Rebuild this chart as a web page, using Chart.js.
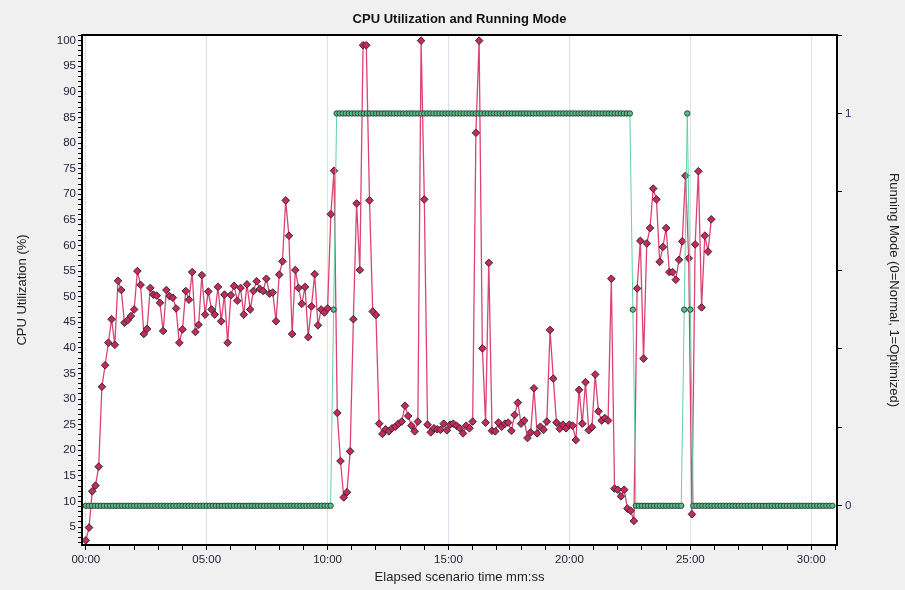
<!DOCTYPE html>
<html>
<head>
<meta charset="utf-8">
<script src="https://cdn.jsdelivr.net/npm/chart.js@4.4.1/dist/chart.umd.min.js"></script>
<style>
  html, body { margin: 0; padding: 0; background: #f0f0f0; }
  canvas { display: block; }
</style>
</head>
<body>
<canvas id="cpuChart" width="905" height="590"></canvas>
<script>
// --- Data ---
const cpuStepSec = 8; // one CPU sample every 8 s
const cpuValues = [
  2.4, 4.9, 12.0, 13.1, 16.8, 32.4, 36.6, 41.0, 45.6, 40.6,
  53.1, 51.3, 44.9, 45.4, 46.2, 47.5, 55.0, 52.3, 42.7, 43.7,
  51.7, 50.4, 50.2, 48.8, 43.3, 51.3, 50.1, 49.8, 47.7, 41.0,
  43.6, 51.1, 49.4, 54.8, 43.1, 44.5, 54.2, 46.5, 51.0, 47.5,
  46.5, 51.9, 45.2, 50.4, 41.0, 50.3, 52.1, 49.2, 51.7, 46.5,
  52.4, 47.5, 51.1, 53.0, 51.5, 51.1, 53.5, 50.6, 50.8, 45.2,
  54.3, 56.9, 68.8, 61.9, 42.7, 55.2, 51.7, 48.6, 51.9, 42.1,
  48.1, 54.4, 44.4, 47.5, 46.9, 47.7, 66.1, 74.6, 27.3, 17.9,
  10.8, 11.8, 19.8, 45.6, 68.2, 55.2, 99.1, 99.1, 68.8, 47.1,
  46.4, 25.2, 23.2, 24.1, 23.7, 24.3, 24.6, 25.2, 25.6, 28.7,
  26.7, 24.8, 23.7, 25.6, 100, 69.0, 25.0, 23.5, 24.3, 24.1,
  24.0, 25.2, 23.9, 25.0, 25.2, 24.8, 24.3, 23.3, 24.8, 24.3,
  25.6, 82.0, 100, 39.9, 25.4, 56.6, 23.8, 23.7, 25.4, 24.6,
  25.2, 25.4, 23.8, 26.9, 29.3, 25.2, 25.8, 22.4, 23.5, 32.1,
  23.3, 24.6, 24.0, 25.6, 43.5, 34.0, 25.4, 24.2, 25.0, 24.3,
  25.0, 24.8, 22.0, 31.8, 25.2, 33.3, 23.9, 24.5, 34.8, 27.6,
  25.8, 26.3, 25.8, 53.5, 12.5, 12.3, 11.0, 12.3, 8.6, 8.2,
  6.2, 51.6, 60.9, 37.9, 60.4, 63.4, 71.1, 69.0, 56.8, 59.7,
  63.4, 54.8, 54.8, 53.3, 57.2, 60.8, 73.6, 57.5, 7.5, 60.2,
  74.5, 47.9, 61.9, 58.8, 65.1
];

// running mode, stored as runs: level and how many samples it lasts
const modeStepSec = 7.5;
const modeLevels = [0, 0.5, 1, 0.5, 0, 0.5, 1, 0.5, 0];
const modeRuns   = [82, 1, 98, 1, 16, 1, 1, 1, 47];

const cpuTickLabels = [5, 10, 15, 20, 25, 30, 35, 40, 45, 50, 55, 60, 65, 70, 75, 80, 85, 90, 95, 100];
const modeTickLabels = [0, 1];
const timeTickLabelsSec = [0, 300, 600, 900, 1200, 1500, 1800];

// --- Build points ---
const cpuPoints = cpuValues.map((v, i) => ({ x: i * cpuStepSec, y: v }));
const modePoints = [];
modeLevels.forEach((lvl, r) => {
    for (let k = 0; k < modeRuns[r]; k++) {
        modePoints.push({ x: modePoints.length * modeStepSec, y: lvl });
    }
});

const FONT = "'Liberation Sans', Arial, sans-serif";
const tickFont = { family: FONT, size: 11.5 };
const titleFont = { family: FONT, size: 13 };
const TICK_COLOR = '#22223a';

const fmtTime = (sec) => {
    const m = Math.floor(sec / 60), s = sec % 60;
    return String(m).padStart(2, '0') + ':' + String(s).padStart(2, '0');
};

// white plot area, black frame, title centred over the plot
const plotFrame = {
    id: 'plotFrame',
    beforeDraw(chart) {
        const { ctx, chartArea: a } = chart;
        ctx.save();
        ctx.fillStyle = '#ffffff';
        ctx.fillRect(a.left, a.top, a.right - a.left, a.bottom - a.top);
        ctx.restore();
    },
    afterDraw(chart) {
        const { ctx, chartArea: a } = chart;
        ctx.save();
        ctx.strokeStyle = '#000';
        ctx.lineWidth = 2;
        ctx.strokeRect(a.left, a.top, a.right - a.left, a.bottom - a.top);
        ctx.fillStyle = '#111';
        ctx.font = 'bold 13px ' + FONT;
        ctx.textAlign = 'center';
        ctx.textBaseline = 'middle';
        ctx.fillText('CPU Utilization and Running Mode', (a.left + a.right) / 2, 19);
        ctx.restore();
    }
};

const ctx = document.getElementById('cpuChart').getContext('2d');
new Chart(ctx, {
    type: 'line',
    data: {
        datasets: [
            {
                label: 'Running Mode',
                data: modePoints,
                yAxisID: 'y1',
                borderColor: '#62d39c',
                borderWidth: 1,
                pointStyle: 'circle',
                pointRadius: 2.7,
                pointBackgroundColor: '#58bd8b',
                pointBorderColor: '#26382e',
                pointBorderWidth: 0.9,
                tension: 0
            },
            {
                label: 'CPU Utilization',
                data: cpuPoints,
                yAxisID: 'y',
                borderColor: '#dc4273',
                borderWidth: 1.3,
                pointStyle: 'rectRot',
                pointRadius: 3.8,
                pointBackgroundColor: '#c52a5a',
                pointBorderColor: '#352a2e',
                pointBorderWidth: 1,
                tension: 0
            }
        ]
    },
    options: {
        responsive: false,
        devicePixelRatio: 1,
        animation: false,
        layout: { padding: { top: 35 } },
        plugins: {
            legend: { display: false },
            title: { display: false },
            tooltip: { enabled: false }
        },
        scales: {
            x: {
                type: 'linear',
                min: -9.4,
                max: 1864,
                afterBuildTicks: (axis) => {
                    const t = [];
                    for (let s = 0; s <= 1860; s += 60) t.push({ value: s });
                    axis.ticks = t;
                },
                afterFit: (scale) => { scale.height = 45; },
                ticks: {
                    autoSkip: false,
                    maxRotation: 0,
                    padding: 3,
                    font: tickFont,
                    color: TICK_COLOR,
                    callback: (v) => timeTickLabelsSec.includes(v) ? fmtTime(v) : ''
                },
                grid: {
                    color: (c) => (c.tick && timeTickLabelsSec.includes(c.tick.value)) ? '#d4e2f0' : 'rgba(0,0,0,0)',
                    tickColor: '#000',
                    tickLength: 5
                },
                border: { display: false },
                title: {
                    display: true,
                    text: 'Elapsed scenario time mm:ss',
                    font: titleFont,
                    color: '#222',
                    padding: { top: 0, bottom: 5 }
                }
            },
            y: {
                position: 'left',
                min: 1.5,
                max: 101.1,
                afterBuildTicks: (axis) => {
                    const t = [];
                    for (let v = 2; v <= 101; v++) t.push({ value: v });
                    axis.ticks = t;
                },
                afterFit: (scale) => { scale.width = 82; },
                ticks: {
                    autoSkip: false,
                    padding: 2,
                    font: tickFont,
                    color: TICK_COLOR,
                    callback: (v) => cpuTickLabels.includes(v) ? String(v) : ''
                },
                grid: { drawOnChartArea: false, tickColor: '#000', tickLength: 4 },
                border: { display: false },
                title: {
                    display: true,
                    text: 'CPU Utilization (%)',
                    font: titleFont,
                    color: '#222',
                    padding: { top: 15, bottom: 0 }
                }
            },
            y1: {
                position: 'right',
                min: -0.1,
                max: 1.2,
                afterBuildTicks: (axis) => {
                    axis.ticks = [0, 0.2, 0.4, 0.6, 0.8, 1, 1.2].map(v => ({ value: v }));
                },
                afterFit: (scale) => { scale.width = 68; },
                ticks: {
                    autoSkip: false,
                    padding: 3,
                    font: tickFont,
                    color: '#2a2a66',
                    callback: (v) => modeTickLabels.includes(v) ? String(v) : ''
                },
                grid: { drawOnChartArea: false, tickColor: '#000', tickLength: 5 },
                border: { display: false },
                title: {
                    display: true,
                    text: 'Running Mode (0=Normal, 1=Optimized)',
                    font: titleFont,
                    color: '#222',
                    padding: { top: 4, bottom: 0 }
                }
            }
        }
    },
    plugins: [plotFrame]
});
</script>
</body>
</html>
